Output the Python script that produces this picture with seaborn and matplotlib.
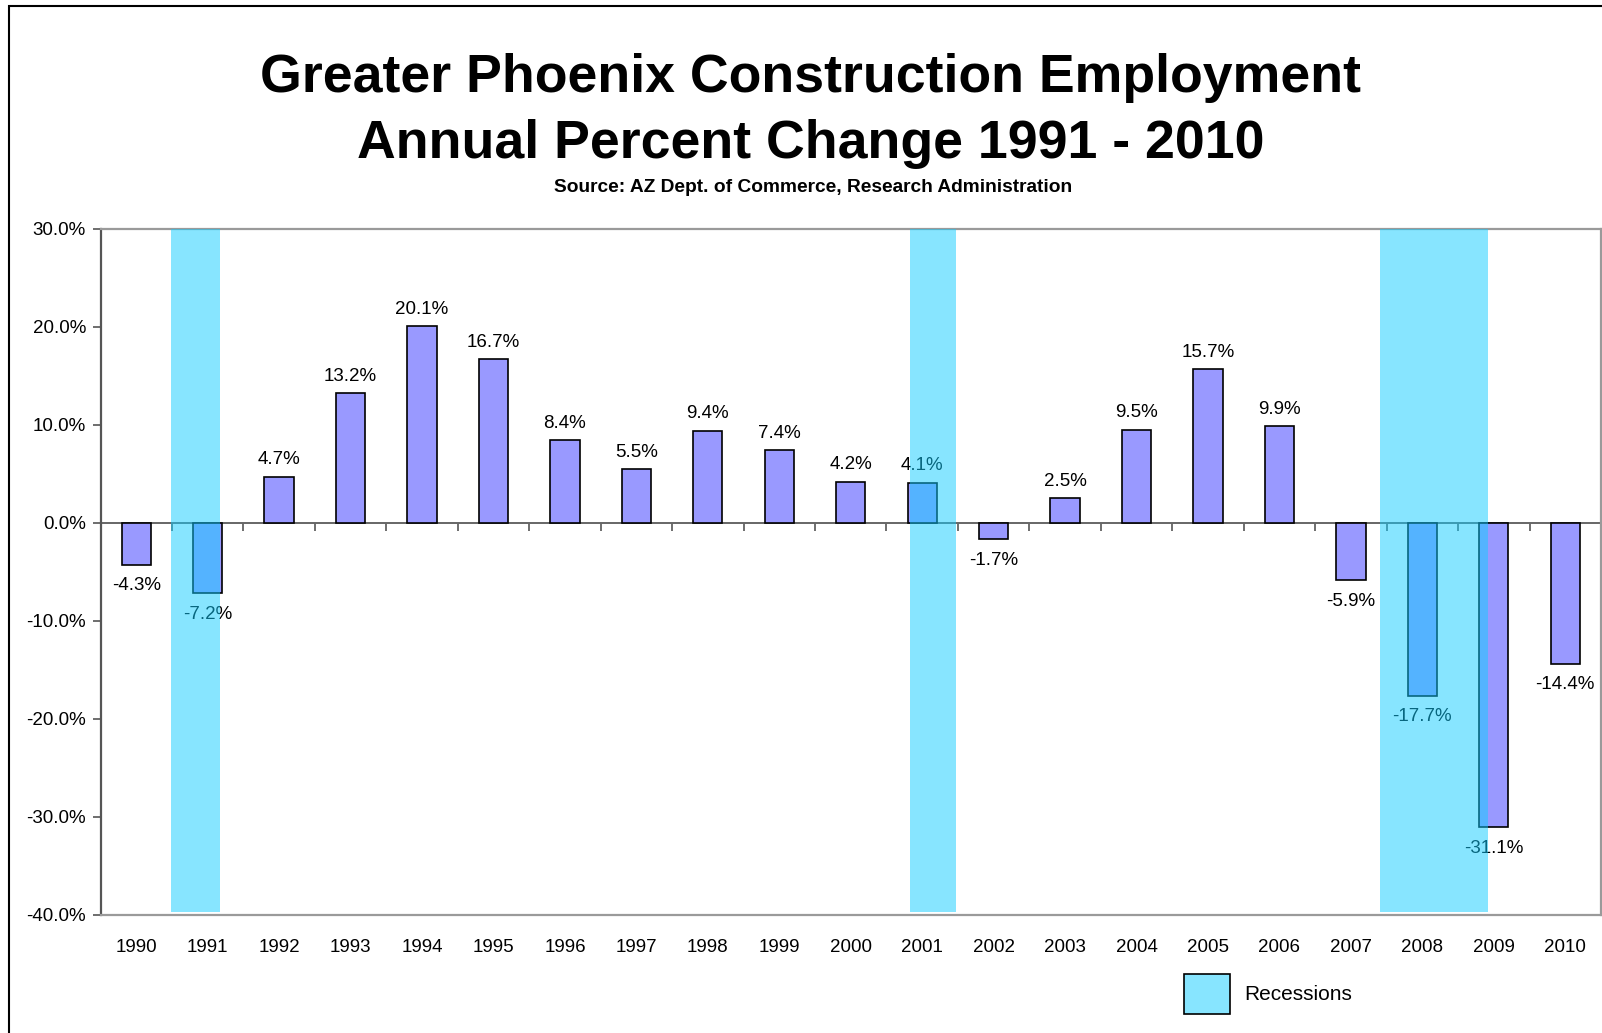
import matplotlib
matplotlib.use("Agg")
import matplotlib.pyplot as plt
import seaborn as sns
import numpy as np
import pandas as pd
from matplotlib.patches import Rectangle, Patch
from matplotlib.ticker import FuncFormatter, MultipleLocator

# ---------------- data ----------------
years = [1990, 1991, 1992, 1993, 1994, 1995, 1996, 1997, 1998, 1999, 2000,
         2001, 2002, 2003, 2004, 2005, 2006, 2007, 2008, 2009, 2010]
pct_change = [-4.3, -7.2, 4.7, 13.2, 20.1, 16.7, 8.4, 5.5, 9.4, 7.4, 4.2,
              4.1, -1.7, 2.5, 9.5, 15.7, 9.9, -5.9, -17.7, -31.1, -14.4]
# recession periods as fractional years (start, end)
recession_start = [1990.49, 2000.83, 2007.41]
recession_end = [1991.17, 2001.47, 2008.92]

title_line1 = "Greater Phoenix Construction Employment"
title_line2 = "Annual Percent Change 1991 - 2010"
subtitle = "Source: AZ Dept. of Commerce, Research Administration"
legend_label = "Recessions"

# ---------------- style ----------------
sns.set_theme(style="white")
plt.rcParams["font.family"] = ["Liberation Sans", "DejaVu Sans"]
plt.rcParams["text.color"] = "black"

BAR = "#9999FF"
BAND = (17 / 255, 205 / 255, 255 / 255, 0.5)
FS = 13.5
LEG_FS = 15

W, H = 1602, 1033
fig = plt.figure(figsize=(W / 100, H / 100), dpi=100)
fig.patch.set_facecolor("white")

ax_left, ax_right = 100.5 / W, 1601 / W
ax_top, ax_bottom = 1 - 228.8 / H, 1 - 914.5 / H
ax = fig.add_axes([ax_left, ax_bottom, ax_right - ax_left, ax_top - ax_bottom])

df = pd.DataFrame({"year": [str(y) for y in years], "pct": pct_change})
sns.barplot(data=df, x="year", y="pct", color=BAR, saturation=1,
            edgecolor="black", linewidth=1.2, width=0.41, ax=ax, zorder=2)

ax.set_xlim(-0.5, len(years) - 0.5)
ax.set_ylim(-40, 30)
ax.set_xlabel("")
ax.set_ylabel("")

# zero line
ax.axhline(0, color="#666666", linewidth=1.4, zorder=1.9)

# data labels
for bar, v in zip(ax.patches, pct_change):
    cx = bar.get_x() + bar.get_width() / 2
    off = 12.0 if v >= 0 else -15.0
    ax.annotate(f"{v:.1f}%", xy=(cx, v), xytext=(0, off),
                textcoords="offset points", ha="center", va="center",
                fontsize=FS, color="black", zorder=2.5)

# recession bands (drawn on top, semi-transparent)
for s, e in zip(recession_start, recession_end):
    ax.axvspan(s - years[0], e - years[0], ymin=0.004, ymax=1,
               facecolor=BAND, edgecolor="none", zorder=3)

# y axis
ax.yaxis.set_major_locator(MultipleLocator(10))
ax.yaxis.set_major_formatter(FuncFormatter(lambda v, p: f"{v:.1f}%"))
ax.tick_params(axis="y", direction="out", length=5.5, width=1.2,
               color="#555555", pad=5, labelsize=FS, labelcolor="black",
               left=True)
ax.tick_params(axis="x", length=0, pad=17.5, labelsize=FS, labelcolor="black")

for side in ["top", "right", "bottom"]:
    ax.spines[side].set_color("#9a9a9a")
    ax.spines[side].set_linewidth(1.6)
    ax.spines[side].set_visible(True)
ax.spines["left"].set_color("#555555")
ax.spines["left"].set_linewidth(1.6)
ax.spines["left"].set_visible(True)
ax.grid(False)

# category-boundary ticks on the zero line, pointing down
zero_frac = (0 - (-40)) / (30 - (-40))
sec = ax.secondary_xaxis(zero_frac)
sec.set_xticks(np.arange(0.5, len(years) - 1, 1.0))
sec.set_xticklabels([])
sec.xaxis.set_ticks_position("bottom")
sec.tick_params(axis="x", which="both", direction="out", length=5.5,
                width=1.2, color="#555555", top=False, bottom=True)
for sp in sec.spines.values():
    sp.set_visible(False)

# titles
cx_title = 811 / W
fig.text(cx_title, 1 - 91.7 / H, title_line1, ha="center", va="baseline",
         fontsize=38.6, fontweight="bold", color="black")
fig.text(cx_title, 1 - 158.3 / H, title_line2, ha="center", va="baseline",
         fontsize=38.6, fontweight="bold", color="black")
fig.text(813 / W, 1 - 191.7 / H, subtitle, ha="center", va="baseline",
         fontsize=13.75, fontweight="bold", color="black")

# legend
handle = Patch(facecolor=BAND, edgecolor="black", linewidth=1.2)
fs_px = LEG_FS * 100 / 72
fig.legend([handle], [legend_label], loc="center left",
           bbox_to_anchor=(1184 / W, 1 - 994 / H), frameon=False,
           fontsize=LEG_FS, handlelength=46 / fs_px,
           handleheight=1.22 * 45 / fs_px,
           handletextpad=14 / fs_px, borderpad=0, borderaxespad=0)

# outer frame (left and top visible)
fig.patches.append(Rectangle((9 / W, -0.2), 1.5, 1.2 - 5.7 / H,
                             transform=fig.transFigure, fill=False,
                             edgecolor="black", linewidth=1.5))

fig.savefig("out.png", dpi=100, facecolor="white")
